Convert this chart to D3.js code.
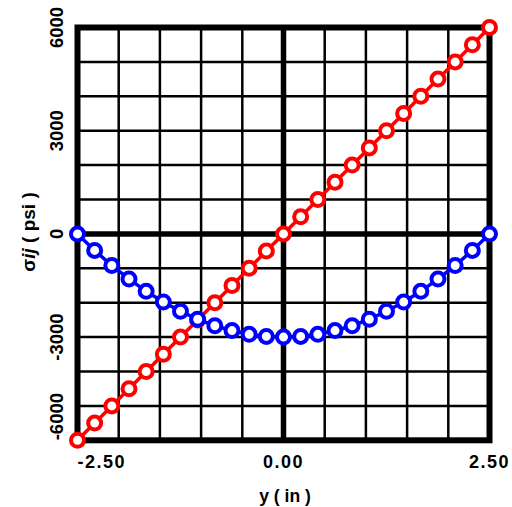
<!DOCTYPE html>
<html><head><meta charset="utf-8">
<script src="https://cdn.jsdelivr.net/npm/d3@7"></script>
<style>
html,body{margin:0;padding:0;background:#fff;}
svg{display:block;}
text{font-family:"Liberation Sans",Arial,sans-serif;font-weight:bold;fill:#000;}
</style></head>
<body>
<svg id="chart" width="512" height="507"></svg>
<script>
// ---- data ----
const yPositions = [-2.5,-2.2917,-2.0833,-1.875,-1.6667,-1.4583,-1.25,-1.0417,-0.8333,-0.625,-0.4167,-0.2083,0,
  0.2083,0.4167,0.625,0.8333,1.0417,1.25,1.4583,1.6667,1.875,2.0833,2.2917,2.5];
const redValues = [-6000,-5500,-5000,-4500,-4000,-3500,-3000,-2500,-2000,-1500,-1000,-500,0,
  500,1000,1500,2000,2500,3000,3500,4000,4500,5000,5500,6000];
const blueValues = [0,-480,-920,-1310,-1670,-1980,-2250,-2480,-2670,-2810,-2920,-2980,-3000,
  -2980,-2920,-2810,-2670,-2480,-2250,-1980,-1670,-1310,-920,-480,0];
const xGridTicks = [-2.5,-2,-1.5,-1,-0.5,0,0.5,1,1.5,2,2.5];
const yGridTicks = [-6000,-5000,-4000,-3000,-2000,-1000,0,1000,2000,3000,4000,5000,6000];
const xLabelTicks = [-2.5,0,2.5];
const xLabelTexts = ["-2.50","0.00","2.50"];
const yLabelTicks = [-6000,-3000,0,3000,6000];
const yLabelTexts = ["-6000","-3000","0","3000","6000"];

// ---- layout ----
const svg = d3.select("#chart");
const x = d3.scaleLinear().domain([-2.5,2.5]).range([77.5,489.5]);
const y = d3.scaleLinear().domain([-6000,6000]).range([440.3,27.5]);

// grid
svg.append("g").selectAll("line").data(xGridTicks).join("line")
  .attr("x1",d=>x(d)).attr("x2",d=>x(d)).attr("y1",y(-6000)).attr("y2",y(6000))
  .attr("stroke","#000").attr("stroke-width",d=>d===0?5.5:2.5);
svg.append("g").selectAll("line").data(yGridTicks).join("line")
  .attr("y1",d=>y(d)).attr("y2",d=>y(d)).attr("x1",x(-2.5)).attr("x2",x(2.5))
  .attr("stroke","#000").attr("stroke-width",d=>d===0?5.5:2.5);
// frame
svg.append("rect").attr("x",x(-2.5)).attr("y",y(6000))
  .attr("width",x(2.5)-x(-2.5)).attr("height",y(-6000)-y(6000))
  .attr("fill","none").attr("stroke","#000").attr("stroke-width",6);

// series
function drawSeries(vals,color){
  const pts = yPositions.map((p,i)=>[p,vals[i]]);
  const g = svg.append("g");
  g.append("path").datum(pts)
    .attr("d",d3.line().x(d=>x(d[0])).y(d=>y(d[1])))
    .attr("fill","none").attr("stroke",color).attr("stroke-width",3.5);
  g.selectAll("circle").data(pts).join("circle")
    .attr("cx",d=>x(d[0])).attr("cy",d=>y(d[1])).attr("r",6.5)
    .attr("fill","#fff").attr("stroke",color).attr("stroke-width",4);
}
drawSeries(redValues,"#ff0000");
drawSeries(blueValues,"#0000ff");

// x tick labels
svg.append("g").selectAll("text").data(xLabelTicks).join("text")
  .attr("x",(d,i)=>x(d)).attr("y",468)
  .attr("text-anchor",(d,i)=>i===0?"start":"middle")
  .attr("font-size",18).attr("letter-spacing",1.5)
  .text((d,i)=>xLabelTexts[i]);

// y tick labels (rotated)
svg.append("g").selectAll("text").data(yLabelTicks).join("text")
  .attr("transform",d=>`translate(63,${y(d)}) rotate(-90)`)
  .attr("text-anchor",(d,i)=>i===0?"start":"middle")
  .attr("font-size",18.5)
  .text((d,i)=>yLabelTexts[i]);

// axis titles
svg.append("text").attr("x",285).attr("y",502).attr("text-anchor","middle")
  .attr("font-size",17.5).text("y ( in )");
const yt = svg.append("text").attr("transform","translate(35,232) rotate(-90)")
  .attr("text-anchor","middle").attr("font-size",19);
yt.append("tspan").text("σ");
yt.append("tspan").attr("font-style","italic").text("ij");
yt.append("tspan").text(" ( psi )");
</script>
</body></html>
